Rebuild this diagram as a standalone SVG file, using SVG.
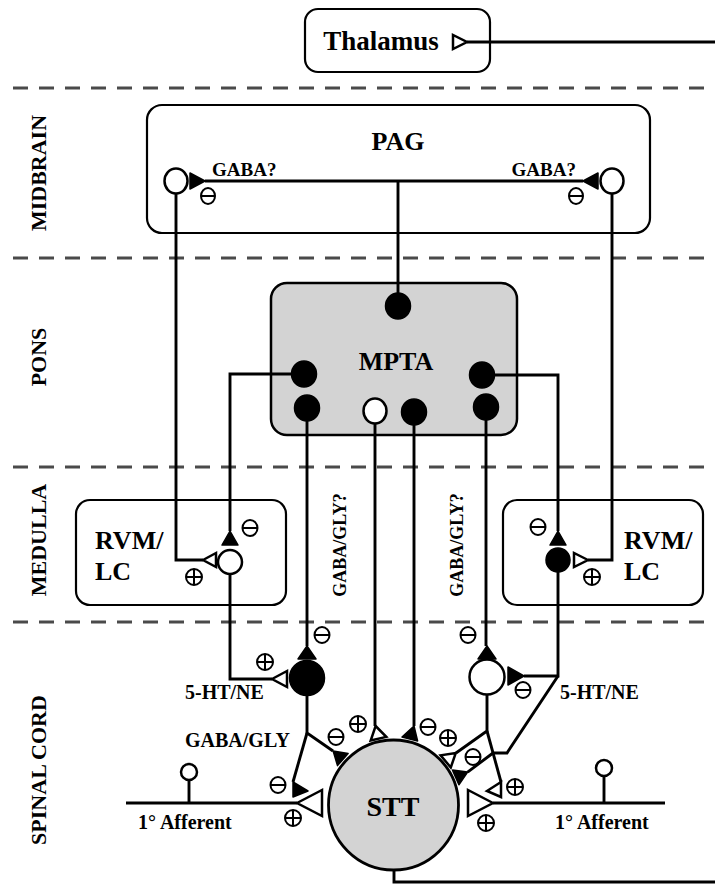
<svg xmlns="http://www.w3.org/2000/svg" width="715" height="885" viewBox="0 0 715 885">
<defs>
<style>
.t{font-family:"Liberation Serif","Times New Roman",serif;font-weight:bold;fill:#000}
.box{fill:#fff;stroke:#000;stroke-width:2.2}
.ln{fill:none;stroke:#000;stroke-width:2.9;stroke-linejoin:miter}
.dash{fill:none;stroke:#4a4a4a;stroke-width:3;stroke-dasharray:15 11}
.fl{fill:#000;stroke:#000;stroke-width:1.5;stroke-linejoin:round}
.op{fill:#fff;stroke:#000;stroke-width:2.5;stroke-linejoin:miter}
.sym{fill:#fff;stroke:#000;stroke-width:2}
.sl{stroke:#000;stroke-width:2}
</style>
<g id="minus"><ellipse rx="7.5" ry="8" class="sym"/><line x1="-7.5" x2="7.5" y1="0" y2="0" class="sl"/></g>
<g id="plus"><circle r="8" class="sym"/><line x1="-8" x2="8" y1="0" y2="0" class="sl"/><line x1="0" x2="0" y1="-8" y2="8" class="sl"/></g>
<g id="minusS"><ellipse rx="7" ry="8" class="sym"/><line x1="-7" x2="7" y1="0" y2="0" class="sl"/></g>
</defs>
<rect width="715" height="885" fill="#fff"/>

<g id="regions">
<line x1="13" y1="88" x2="715" y2="88" class="dash"/>
<line x1="13" y1="258" x2="715" y2="258" class="dash"/>
<line x1="13" y1="467" x2="715" y2="467" class="dash"/>
<line x1="13" y1="622" x2="715" y2="622" class="dash"/>
<text class="t" font-size="22" text-anchor="middle" transform="translate(46,173) rotate(-90)">MIDBRAIN</text>
<text class="t" font-size="22" text-anchor="middle" transform="translate(46,357) rotate(-90)">PONS</text>
<text class="t" font-size="22" text-anchor="middle" transform="translate(46,540) rotate(-90)">MEDULLA</text>
<text class="t" font-size="22" text-anchor="middle" transform="translate(46,770) rotate(-90)">SPINAL CORD</text>
</g>

<g id="thalamus">
<rect x="305" y="9" width="185" height="63" rx="13" class="box"/>
<text class="t" font-size="27" x="381" y="50" text-anchor="middle">Thalamus</text>
</g>

<g id="pag">
<rect x="147" y="105" width="503" height="128" rx="15" class="box"/>
<text class="t" font-size="26" x="398" y="150" text-anchor="middle">PAG</text>
<ellipse cx="176" cy="181" rx="11.5" ry="12.5" class="op"/>
<ellipse cx="612" cy="181" rx="11.5" ry="12.5" class="op"/>
<text class="t" font-size="19" x="212" y="176">GABA?</text>
<text class="t" font-size="19" x="576" y="176" text-anchor="end">GABA?</text>
<use href="#minusS" x="208" y="196"/>
<use href="#minusS" x="576" y="196"/>
</g>

<g id="mpta">
<rect x="271" y="283" width="246" height="152" rx="16" fill="#d3d3d3" stroke="#000" stroke-width="2.5"/>
<text class="t" font-size="26" x="396" y="370" text-anchor="middle">MPTA</text>
<ellipse cx="398" cy="306" rx="12.5" ry="13" class="fl"/>
<ellipse cx="304" cy="374" rx="12.5" ry="13" class="fl"/>
<ellipse cx="482" cy="375" rx="12.5" ry="13" class="fl"/>
<ellipse cx="307" cy="408" rx="12.5" ry="13" class="fl"/>
<ellipse cx="375" cy="411" rx="11.5" ry="12.5" class="op"/>
<ellipse cx="414" cy="412" rx="12.5" ry="13" class="fl"/>
<ellipse cx="486" cy="407" rx="12.5" ry="13" class="fl"/>
</g>

<g id="rvm-left">
<rect x="76" y="500" width="210" height="105" rx="14" class="box"/>
<text class="t" font-size="26" x="95" y="549">RVM/</text>
<text class="t" font-size="26" x="95" y="580">LC</text>
<circle cx="230" cy="562" r="12" class="op"/>
<use href="#minus" x="250" y="528"/>
<use href="#plus" x="194" y="577"/>
</g>

<g id="rvm-right">
<rect x="503" y="500" width="200" height="105" rx="14" class="box"/>
<text class="t" font-size="26" x="624" y="549">RVM/</text>
<text class="t" font-size="26" x="624" y="580">LC</text>
<circle cx="558" cy="560" r="12" class="fl"/>
<use href="#minus" x="538" y="527"/>
<use href="#plus" x="592" y="577"/>
</g>

<g id="spinal-left">
<circle cx="307" cy="678" r="17.5" class="fl"/>
<use href="#minus" x="322" y="635"/>
<use href="#plus" x="265" y="662"/>
<text class="t" font-size="20" x="185" y="699">5-HT/NE</text>
<text class="t" font-size="20" x="185" y="747">GABA/GLY</text>
</g>

<g id="spinal-right">
<circle cx="487" cy="677" r="17.5" class="op"/>
<use href="#minus" x="468" y="635"/>
<use href="#minus" x="523" y="690"/>
<text class="t" font-size="20" x="560" y="699">5-HT/NE</text>
</g>

<g id="stt">
<circle cx="393.5" cy="805" r="65" fill="#d3d3d3" stroke="#000" stroke-width="2.8"/>
<text class="t" font-size="28" x="393" y="816" text-anchor="middle">STT</text>
<use href="#plus" x="358" y="724"/>
<use href="#minus" x="428" y="727"/>
<use href="#minus" x="336" y="737"/>
<use href="#plus" x="448" y="738"/>
<use href="#minus" x="473" y="757"/>
</g>

<g id="afferent-left">
<line x1="126" y1="803" x2="297" y2="803" class="ln"/>
<line x1="189" y1="780" x2="189" y2="803" class="ln"/>
<circle cx="189" cy="772" r="8" class="op" stroke-width="2.2"/>
<polygon points="297,803 322,790 322,816" class="op"/>
<text class="t" font-size="20" x="138" y="829">1° Afferent</text>
<use href="#minus" x="278" y="785"/>
<use href="#plus" x="293" y="818"/>
</g>

<g id="afferent-right">
<line x1="493" y1="803" x2="665" y2="803" class="ln"/>
<line x1="604" y1="776" x2="604" y2="803" class="ln"/>
<circle cx="604" cy="768" r="8" class="op" stroke-width="2.2"/>
<polygon points="493,803 468,790 468,816" class="op"/>
<text class="t" font-size="20" x="555" y="829">1° Afferent</text>
<use href="#plus" x="515" y="787"/>
<use href="#plus" x="486" y="823"/>
</g>

<g id="labels">
<text class="t" font-size="18" text-anchor="middle" transform="translate(346,545) rotate(-90)">GABA/GLY?</text>
<text class="t" font-size="18" text-anchor="middle" transform="translate(463,545) rotate(-90)">GABA/GLY?</text>
</g>

<g id="connectors">
<path class="ln" d="M467,42 H715"/>
<polygon class="op" points="453,35 453,49 467,42"/>
<path class="ln" d="M205,181 H583"/>
<polygon class="fl" points="190,173 190,189 205,181"/>
<polygon class="fl" points="598,173 598,189 583,181"/>
<path class="ln" d="M398,181 V294"/>
<path class="ln" d="M291,374 H230 V531"/>
<polygon class="fl" points="230,531 222,545 238,545"/>
<path class="ln" d="M495,375 H558 V531"/>
<polygon class="fl" points="558,531 550,545 566,545"/>
<path class="ln" d="M176,193.5 V560 H203"/>
<polygon class="op" points="203,560 216,553 216,567"/>
<path class="ln" d="M612,193.5 V560 H588"/>
<polygon class="op" points="588,560 574,553 574,567"/>
<path class="ln" d="M307,421 V646"/>
<polygon class="fl" points="307,646 298,659 316,659"/>
<path class="ln" d="M486,420 V646"/>
<polygon class="fl" points="487,646 478,659 496,659"/>
<path class="ln" d="M230,574 V679 H272"/>
<polygon class="op" points="272,679 287,671 287,687"/>
<path class="ln" d="M558,572 V676 H524"/>
<polygon class="fl" points="524,676 508,667 508,685"/>
<path class="ln" d="M375,423 V726"/>
<polygon class="op" points="375.6,726 386.3,736.9 370.7,740.5"/>
<path class="ln" d="M414,425 V726"/>
<polygon class="fl" points="414,726 417.6,740.9 402,737.1"/>
<path class="ln" d="M307,695 V733 L333,751"/>
<polygon class="fl" points="333.1,750.9 348.1,753.6 337.5,765.6"/>
<path class="ln" d="M307,733 L293,782"/>
<polygon class="fl" points="293,782 293,797 308,791"/>
<path class="ln" d="M487,694 V731 L456,753"/>
<polygon class="op" points="455.7,753.1 450.8,767.5 440.6,755.3"/>
<path class="ln" d="M487,731 L501,782"/>
<polygon class="op" points="501,782 501,797 487,791"/>
<path class="ln" d="M558,676 L507,753 H493 L467.6,772.1"/>
<polygon class="fl" points="467.6,772.1 458.9,784.7 452.5,770.1"/>
<path class="ln" d="M394,870 V882 H715"/>
</g>
</svg>
